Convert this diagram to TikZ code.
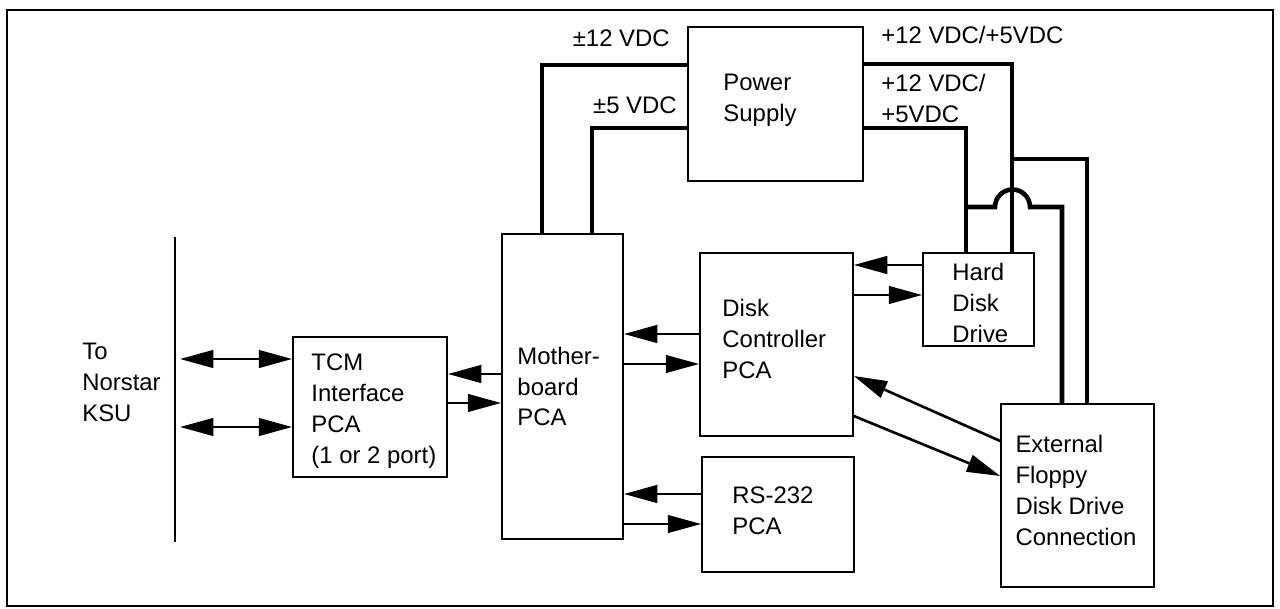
\documentclass[tikz,border=0pt]{standalone}
\usepackage{fontspec}
\setmainfont{Liberation Sans}
\usepackage{tikz}
\usetikzlibrary{arrows.meta,positioning,calc}

\begin{document}
\begin{tikzpicture}[x=0.02cm,y=-0.02cm,
    font=\fontsize{13.6}{17.6}\selectfont,
    box/.style={draw,line width=1pt,inner sep=0pt},
    lbl/.style={align=left,inner sep=0pt},
    power/.style={line width=2.6pt},
    arr/.style={line width=1.5pt,-{Triangle[length=19pt,width=10pt]}},
    dblarr/.style={line width=1.5pt,{Triangle[length=19pt,width=10pt]}-{Triangle[length=19pt,width=10pt]}}]

    \useasboundingbox (0,0) rectangle (1280,608);
    % Outer frame
    \draw[line width=1.2pt] (7,10) rectangle (1273,606);

    % Boxes
    \node[box,minimum width=3.5cm,minimum height=3.08cm] (ps) at (775.5,104) {};
    \node[lbl,anchor=west] (pstxt) at ([xshift=0.72cm,yshift=0.08cm]ps.west) {Power\\Supply};

    \node[box,minimum width=3.08cm,minimum height=2.8cm] (tcm) at (370,407) {};
    \node[lbl,anchor=west] (tcmtxt) at ([xshift=0.38cm,yshift=-0.09cm]tcm.west) {TCM\\Interface\\PCA\\(1 or 2 port)};

    \node[box,minimum width=2.42cm,minimum height=6.1cm] (mb) at (562.5,386.5) {};
    \node[lbl,anchor=west] (mbtxt) at ([xshift=0.32cm]mb.west) {Mother-\\board\\PCA};

    \node[box,minimum width=3.06cm,minimum height=3.66cm] (dc) at (776.5,344.5) {};
    \node[lbl,anchor=west] (dctxt) at ([xshift=0.46cm,yshift=0.11cm]dc.west) {Disk\\Controller\\PCA};

    \node[box,minimum width=2.22cm,minimum height=1.86cm] (hd) at (978.5,299.5) {};
    \node[lbl,anchor=west] (hdtxt) at ([xshift=0.6cm,yshift=-0.07cm]hd.west) {Hard\\Disk\\Drive};

    \node[box,minimum width=3.04cm,minimum height=2.3cm] (rs) at (778,514.5) {};
    \node[lbl,anchor=west] (rstxt) at ([xshift=0.62cm,yshift=0.07cm]rs.west) {RS-232\\PCA};

    \node[box,minimum width=3.06cm,minimum height=3.66cm] (fl) at (1077.5,495.5) {};
    \node[lbl,anchor=west] (fltxt) at ([xshift=0.3cm,yshift=0.1cm]fl.west) {External\\Floppy\\Disk Drive\\Connection};

    % KSU side
    \coordinate (ksutop) at (175,237);
    \coordinate (ksubot) at (175,542);
    \coordinate (ksu) at (180,0);
    \draw[line width=1.1pt] (ksutop) -- (ksubot);
    \node[lbl,anchor=west] (ksutxt) at (82,382) {To\\Norstar\\KSU};

    % Voltage labels
    \node[lbl,anchor=east] (v12) at (670,38) {±12 VDC};
    \node[lbl,anchor=east] (v5) at (677,105) {±5 VDC};
    \node[lbl,anchor=west] (vdisk) at (881,35) {+12 VDC/+5VDC};
    \node[lbl,anchor=west] (vhd) at (881,98) {+12 VDC/\\+5VDC};

    % Power lines
    \draw[power] (ps.west |- 0,65) -| (mb.north -| 542,0);
    \draw[power] (ps.west |- 0,128) -| (mb.north -| 592,0);
    \draw[power] (ps.east |- 0,64) -| (hd.north -| 1012,0);
    \draw[power] (ps.east |- 0,128) -| (hd.north -| 966,0);
    \coordinate (tap1) at (1012,159);
    \coordinate (tap2) at (966,207);
    \draw[power] (tap1) -| (fl.north -| 1087,0);
    \draw[power] (tap2) -- (995,207) arc[start angle=180,end angle=0,radius=0.35cm]
        -- (1062,207) -- (fl.north -| 1062,0);

    % Signal arrows
    \draw[dblarr] (ksu |- 0,359) -- (tcm.west |- 0,359);
    \draw[dblarr] (ksu |- 0,427) -- (tcm.west |- 0,427);
    \draw[arr] (mb.west |- 0,374) -- (tcm.east |- 0,374);
    \draw[arr] (tcm.east |- 0,403) -- (mb.west |- 0,403);
    \draw[arr] (dc.west |- 0,334) -- (mb.east |- 0,334);
    \draw[arr] (mb.east |- 0,364) -- (dc.west |- 0,364);
    \draw[arr] (rs.west |- 0,494) -- (mb.east |- 0,494);
    \draw[arr] (mb.east |- 0,524) -- (rs.west |- 0,524);
    \draw[arr] (hd.west |- 0,265) -- (dc.east |- 0,265);
    \draw[arr] (dc.east |- 0,295) -- (hd.west |- 0,295);
    \draw[arr] (fl.west |- 0,441) -- (dc.east |- 0,376);
    \draw[arr] (dc.east |- 0,416) -- (fl.west |- 0,476);
\end{tikzpicture}
\end{document}
